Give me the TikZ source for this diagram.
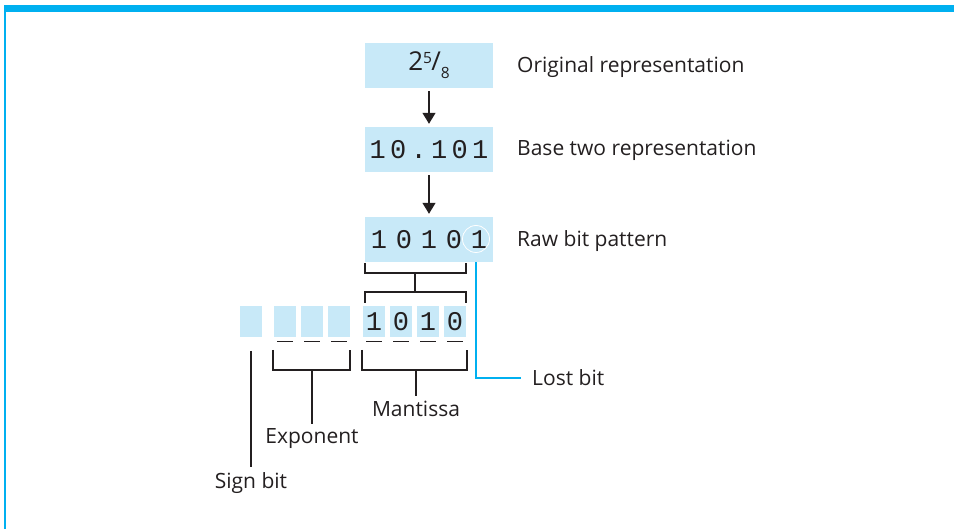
\documentclass[tikz,border=0pt]{standalone}
\usepackage{fontspec}
\setmainfont{Open Sans}
\setmonofont{Liberation Mono}
\usepackage{xcolor}
\usepackage{tikz}
\usetikzlibrary{arrows.meta}
\definecolor{bitblue}{RGB}{200,233,248}
\definecolor{rulecyan}{RGB}{0,176,240}
\definecolor{inkgray}{RGB}{35,31,32}
\newcommand{\dg}[2][20.5pt]{\makebox[#1]{#2}}

\tikzset{
  stagebox/.style={fill=bitblue, minimum width=128pt, minimum height=45pt, inner sep=0pt,
    font=\fontsize{27}{27}\ttfamily},
  cellbox/.style={fill=bitblue, minimum width=22pt, minimum height=31pt, inner sep=0pt,
    font=\fontsize{27}{27}\ttfamily},
  sidelabel/.style={anchor=base west, inner sep=0pt, font=\fontsize{21}{24}\selectfont},
  partlabel/.style={anchor=base, inner xsep=0pt, inner ysep=5pt, font=\fontsize{21}{24}\selectfont},
  bracket/.style={line width=1.2pt, draw=inkgray},
  flow/.style={-{Triangle[length=11pt,width=13pt]}, line width=1.2pt, shorten <=3pt, shorten >=3pt},
  lostline/.style={draw=rulecyan, line width=2.6pt},
}

\begin{document}
\begin{tikzpicture}[x=1pt, y=-1pt, color=inkgray]
    \useasboundingbox (0,0) rectangle (954,529);
    % frame
    \fill[rulecyan] (4,5) rectangle (954,12.5);
    \draw[rulecyan, line width=1.5pt] (5,12) -- (5,529);

    % the three stages
    \node[stagebox, font=\fontsize{26}{26}\selectfont\rmfamily] (orig) at (429,65.5)
        {2\raisebox{0.28em}{\fontsize{15.5}{15.5}\selectfont 5}\kern-0.03em/\raisebox{-0.32em}{\fontsize{15.5}{15.5}\selectfont 8}};
    \node[stagebox] (base) at (429,149.5) {\dg{1}\dg{0}\dg{.}\dg{1}\dg{0}\dg{1}};
    \node[stagebox] (raw) at (429,239.5) {\dg[25pt]{1}\dg[25pt]{0}\dg[25pt]{1}\dg[25pt]{0}\dg[25pt]{1}};
    \node[circle, draw=white, line width=0.8pt, minimum size=27pt, inner sep=0pt] (lost) at (476,239) {};

    \draw[flow] (orig) -- (base);
    \draw[flow] (base) -- (raw);

    \node[sidelabel] (origlbl) at (517,73) {Original representation};
    \node[sidelabel] (baselbl) at (517,156) {Base two representation};
    \node[sidelabel] (rawlbl) at (517,247) {Raw bit pattern};

    % storage cells
    \foreach \name/\x in {sign/251, e1/285, e2/312, e3/339}
        \node[cellbox] (\name) at (\x,321.5) {};
    \foreach \name/\x/\b in {m1/374/1, m2/401/0, m3/428/1, m4/455/0}
        \node[cellbox] (\name) at (\x,321.5) {\b};
    \foreach \c in {e1,e2,e3,m1,m2,m3,m4}
        \draw[bracket] ([xshift=-8pt,yshift=-4pt]\c.south) -- ([xshift=8pt,yshift=-4pt]\c.south);

    % brackets
    \draw[bracket] (365,263) |- (466,273) -- (466,263);
    \draw[bracket] (365,303) |- (466,292) -- (466,303);
    \draw[bracket] (415,273) -- (415,292);
    \draw[bracket] (273,350) |- (350,370) -- (350,350);
    \draw[bracket] (362,350) |- (467,370) -- (467,350);

    \node[partlabel] (mant) at (416,417) {Mantissa};
    \node[partlabel] (expo) at (312,444) {Exponent};
    \node[partlabel] (signlbl) at (251,488) {Sign bit};
    \draw[bracket] (416,370) -- (mant.north);
    \draw[bracket] (312,370) -- (expo.north);
    \draw[bracket] (251,351) -- (signlbl.north);

    % lost bit
    \node[sidelabel, inner xsep=11pt] (lostlbl) at (521,386) {Lost bit};
    \draw[lostline] (lost.south |- raw.south) |- (lostlbl.west);
\end{tikzpicture}
\end{document}
